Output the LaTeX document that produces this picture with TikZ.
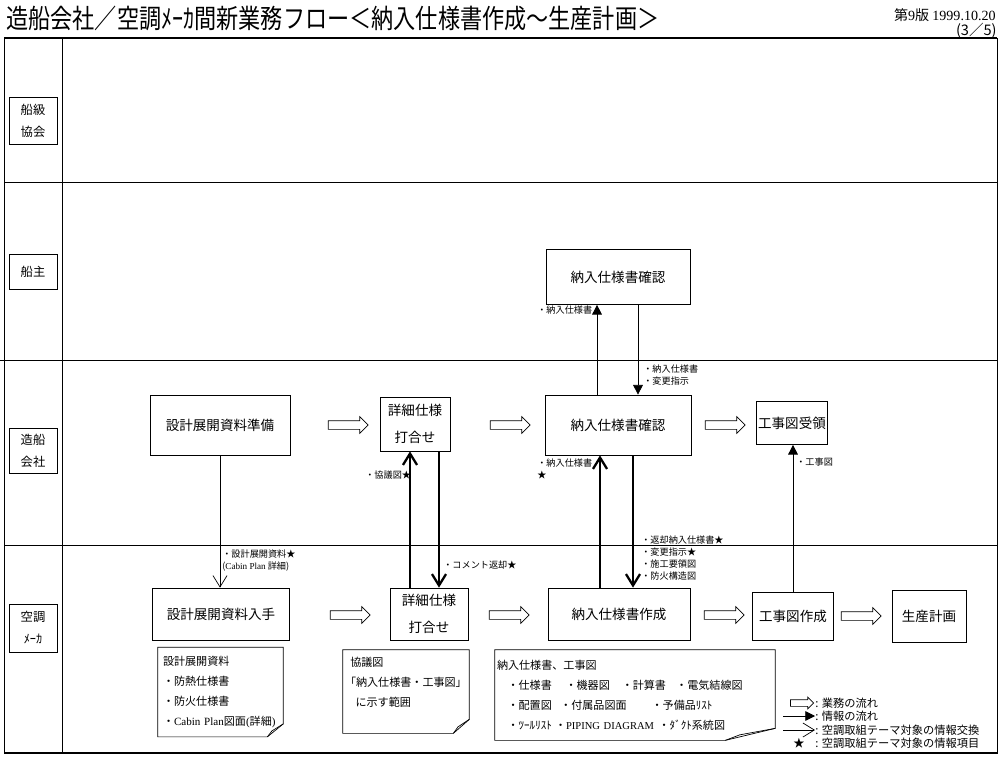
\documentclass[tikz,border=0pt]{standalone}
\usepackage{fontspec}
\setmainfont{Noto Sans CJK JP}
\newfontfamily\latn{Liberation Serif}
\usetikzlibrary{positioning, arrows.meta, calc, shapes.arrows}

% folded-corner frame round a memo node: #1 node, #2 fold width, #3 fold height
\newcommand\foldframe[3]{%
  \draw[thin] (#1.north west) -- (#1.north east) -- ([yshift=#3]#1.south east)
    -- ([xshift=-#2]#1.south east) -- (#1.south west) -- cycle;
  \draw[thin] ([xshift=-#2]#1.south east)
    -- ([xshift={-0.71*#2}, yshift={0.46*#3}]#1.south east)
    -- ([yshift=#3]#1.south east);
}

\tikzset{
  lane/.style={
    draw, thin, minimum width=0.96cm, align=center, inner sep=1pt,
    font=\fontsize{7}{12.5}\selectfont
  },
  task/.style={
    draw, thin, align=center, inner sep=1pt,
    font=\fontsize{7.7}{15}\selectfont
  },
  flow/.style={
    single arrow, draw, thin, minimum height=0.8cm, minimum width=0.32cm,
    single arrow head extend=0.08cm, inner xsep=0pt, inner ysep=0.08cm
  },
  info/.style={-{Triangle[length=5.5pt,width=5.5pt]}, thin},
  exch/.style={-{Straight Barb[length=6.5pt,width=8pt]}, line width=1.3pt},
  exchthin/.style={-{Straight Barb[length=6.5pt,width=8pt]}, thin},
  lbl/.style={
    anchor=west, inner sep=0pt, align=left,
    font=\fontsize{5.2}{6.8}\selectfont
  },
  memo/.style={
    align=left, inner ysep=2pt, font=\fontsize{6.3}{11.4}\selectfont
  },
  legend/.style={anchor=west, inner sep=0pt, font=\fontsize{6.4}{7.5}\selectfont},
}

\begin{document}
\begin{tikzpicture}[x=0.02cm, y=-0.02cm]
  \useasboundingbox (0,0) rectangle (1000,757);

  % heading
  \node[anchor=west, inner sep=0pt, font=\fontsize{12.6}{14}\selectfont] (title) at (6,18)
    {\scalebox{1}[1.2]{造船会社／空調ﾒｰｶ間新業務フロー＜納入仕様書作成～生産計画＞}};
  \node[anchor=east, inner sep=0pt, font=\fontsize{8}{9}\selectfont] (ver) at (996,15)
    {第{\latn 9}版 {\latn 1999.10.20}};
  \node[anchor=east, inner sep=0pt, font=\fontsize{8.3}{9}\selectfont] (page) at (997,31)
    {(3／5)};

  % swim lanes
  \draw[thin] (4,38) rectangle (997,753);
  \draw[line width=1.3pt] (4,38) -- (997,38);
  \draw[line width=1.3pt] (4,753) -- (997,753);
  \draw[thin] (62,38) -- (62,753);
  \draw[thin] (4,182) -- (997,182);
  \draw[thin] (0,360) -- (997,360);
  \draw[thin] (4,545) -- (997,545);

  \node[lane, minimum height=0.94cm] (clsLane)  at (33,121) {船級\\協会};
  \node[lane, minimum height=0.7cm]  (ownLane)  at (33,272) {船主};
  \node[lane, minimum height=0.9cm]  (yardLane) at (33,451) {造船\\会社};
  \node[lane, minimum height=0.96cm] (mkrLane)  at (33,628) {空調\\ﾒｰｶ};

  % tasks
  \node[task, minimum width=2.88cm, minimum height=1.1cm]  (ownChk)   at (618,277) {納入仕様書確認};
  \node[task, minimum width=2.8cm,  minimum height=1.2cm]  (prep)     at (220,425) {設計展開資料準備};
  \node[task, minimum width=1.4cm,  minimum height=1.08cm] (mtgU)     at (415,424) {詳細仕様\\打合せ};
  \node[task, minimum width=2.92cm, minimum height=1.2cm]  (yardChk)  at (618,425) {納入仕様書確認};
  \node[task, minimum width=1.4cm,  minimum height=0.86cm] (recv)     at (792,423) {工事図受領};
  \node[task, minimum width=2.74cm, minimum height=1.04cm] (get)      at (221,614) {設計展開資料入手};
  \node[task, minimum width=1.56cm, minimum height=1.04cm] (mtgL)     at (429,614) {詳細仕様\\打合せ};
  \node[task, minimum width=2.84cm, minimum height=1.04cm] (make)     at (619,614) {納入仕様書作成};
  \node[task, minimum width=1.62cm, minimum height=0.96cm] (kojiMake) at (793,616) {工事図作成};
  \node[task, minimum width=1.48cm, minimum height=1.04cm] (plan)     at (929,616) {生産計画};

  % work flow
  \node[flow] (fl1) at (346,425) {};
  \node[flow] (fl2) at (508,425) {};
  \node[flow] (fl3) at (723,425) {};
  \node[flow] (fl4) at (348,615) {};
  \node[flow] (fl5) at (507,615) {};
  \node[flow] (fl6) at (722,615) {};
  \node[flow] (fl7) at (859,616) {};

  % information
  \draw[info] ([xshift=-0.42cm]yardChk.north) -- ([xshift=-0.42cm]yardChk.north |- ownChk.south);
  \draw[info] ([xshift=0.4cm]ownChk.south) -- ([xshift=0.4cm]ownChk.south |- yardChk.north);
  \draw[info] (kojiMake.north) -- (kojiMake.north |- recv.south);
  \draw[exchthin] (prep.south) -- (prep.south |- get.north);
  \draw[exch] ([xshift=-0.38cm]mtgL.north) -- ([xshift=-0.38cm]mtgL.north |- mtgU.south);
  \draw[exch] ([xshift=0.48cm]mtgU.south) -- ([xshift=0.48cm]mtgU.south |- mtgL.north);
  \draw[exch] ([xshift=-0.38cm]make.north) -- ([xshift=-0.38cm]make.north |- yardChk.south);
  \draw[exch] ([xshift=0.3cm]yardChk.south) -- ([xshift=0.3cm]yardChk.south |- make.north);

  \node[lbl] (lOwn) at (537,310) {・納入仕様書};
  \node[lbl] (lChg) at (643,375) {・納入仕様書\\・変更指示};
  \node[lbl] (lDsn) at (222,561) {・設計展開資料★\\({\latn Cabin Plan} 詳細)};
  \node[lbl] (lKyo) at (365,475) {・協議図★};
  \node[lbl] (lCom) at (443,565) {・コメント返却★};
  \node[lbl] (lSpc) at (537,469) {・納入仕様書\\★};
  \node[lbl] (lRet) at (641,558) {・返却納入仕様書★\\・変更指示★\\・施工要領図\\・防火構造図};
  \node[lbl] (lKoj) at (796,462) {・工事図};

  % memos
  \node[memo, inner xsep=0.1cm, text width=2.3cm, minimum height=1.78cm] (memoDsn) at (220.5,692)
    {設計展開資料\\・防熱仕様書\\・防火仕様書\\\mbox{・{\latn Cabin Plan}図面{\latn (}詳細{\latn )}}};
  \node[memo, inner xsep=0.04cm, text width=2.44cm, minimum height=1.66cm] (memoKyo) at (406,691.5)
    {\hspace*{3pt}協議図\\「納入仕様書・工事図」\\\hspace*{6pt}に示す範囲\\\mbox{}};
  \node[memo, inner xsep=0.04cm, text width=5.52cm, minimum height=1.8cm] (memoSpc) at (635,695)
    {納入仕様書、工事図\\
     \hspace*{6pt}\makebox[33pt][l]{・仕様書}\makebox[32pt][l]{・機器図}\makebox[31pt][l]{・計算書}・電気結線図\\
     \hspace*{6pt}\makebox[30pt][l]{・配置図}\makebox[52pt][l]{・付属品図面}・予備品ﾘｽﾄ\\
     \hspace*{6pt}\makebox[27pt][l]{・ﾂｰﾙﾘｽﾄ}\makebox[59pt][l]{・{\latn\fontsize{6}{11.4}\selectfont PIPING DIAGRAM}}・ﾀﾞｸﾄ系統図};
  \foldframe{memoDsn}{0.32cm}{0.26cm}
  \foldframe{memoKyo}{0.32cm}{0.28cm}
  \foldframe{memoSpc}{1.0cm}{0.24cm}

  % legend
  \node[legend] (lgFlow) at (815,703) {: 業務の流れ};
  \node[legend] (lgInfo) at (815,716) {: 情報の流れ};
  \node[legend] (lgExch) at (815,730) {: 空調取組テーマ対象の情報交換};
  \node[legend] (lgItem) at (815,743) {: 空調取組テーマ対象の情報項目};
  \node[flow, minimum height=0.46cm, minimum width=0.22cm, single arrow head extend=0.05cm,
        inner ysep=0.06cm, left=0.02cm of lgFlow] (lgFlowArr) {};
  \draw[info] ([xshift=-0.64cm]lgInfo.west) -- (lgInfo.west);
  \draw[exchthin] ([xshift=-0.64cm]lgExch.west) -- (lgExch.west);
  \node[left=0.2cm of lgItem, inner sep=0pt, font=\fontsize{6.4}{7.5}\selectfont] (lgStar) {★};
\end{tikzpicture}
\end{document}
